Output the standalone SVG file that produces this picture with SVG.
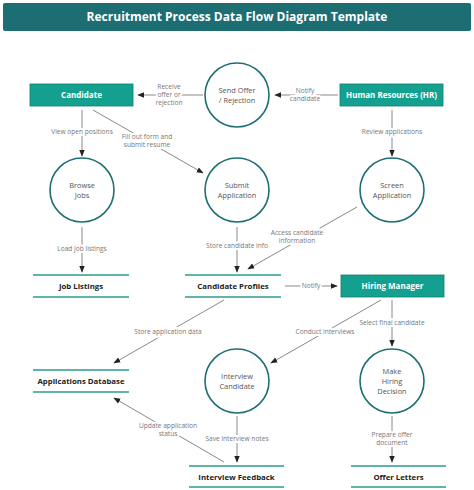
<svg xmlns="http://www.w3.org/2000/svg" width="474" height="490" viewBox="0 0 474 490">
<defs>
<marker id="ah" viewBox="0 0 10 10" refX="9" refY="5" markerWidth="7" markerHeight="7" orient="auto" markerUnits="userSpaceOnUse">
<path d="M0,1 L10,5 L0,9 Z" fill="#222"/>
</marker>
<style>
.title{font-family:"Open Sans","Liberation Sans",sans-serif;font-weight:700;font-size:12px;fill:#fff}
.ent rect{fill:#14a08f;stroke:#0f7d70;stroke-width:0.8}
.ent text{font-family:"Open Sans","Liberation Sans",sans-serif;font-weight:700;font-size:8px;fill:#fff}
.proc circle{fill:#fff;stroke:#1d6f73;stroke-width:1.6}
.proc text{font-family:"Open Sans","Liberation Sans",sans-serif;font-size:7.4px;fill:#555}
.store line{stroke:#2a9d90;stroke-width:1.6}
.store text{font-family:"Open Sans","Liberation Sans",sans-serif;font-weight:700;font-size:7.8px;fill:#222}
.conn line{stroke:#888;stroke-width:1;marker-end:url(#ah)}
.lbl{font-family:"Open Sans","Liberation Sans",sans-serif;font-size:6.6px;fill:#777;stroke:#fff;stroke-width:4;paint-order:stroke;stroke-linejoin:round}
</style>
</defs>
<rect width="474" height="490" fill="#fff"/>
<g id="title">
<rect x="3" y="3" width="468" height="28" rx="2" fill="#1d6e73"/>
<text class="title" x="237" y="21" text-anchor="middle">Recruitment Process Data Flow Diagram Template</text>
</g>
<g id="connectors" class="conn">
<line x1="203" y1="95" x2="138" y2="95"/>
<line x1="338" y1="95" x2="275" y2="95"/>
<line x1="82" y1="110" x2="82" y2="156"/>
<line x1="93" y1="110" x2="203" y2="173"/>
<line x1="392" y1="110" x2="392" y2="156"/>
<line x1="82" y1="227" x2="82" y2="272"/>
<line x1="237" y1="227" x2="237" y2="272"/>
<line x1="357" y1="207" x2="248" y2="269"/>
<line x1="285" y1="286" x2="337" y2="286"/>
<line x1="224" y1="300" x2="114" y2="363"/>
<line x1="381" y1="300" x2="271" y2="363"/>
<line x1="392" y1="300" x2="392" y2="346"/>
<line x1="237" y1="416" x2="237" y2="462"/>
<line x1="224" y1="462" x2="114" y2="398"/>
<line x1="392" y1="416" x2="392" y2="462"/>
<g text-anchor="middle">
<text class="lbl" x="169" y="89">Receive</text>
<text class="lbl" x="169" y="97">offer or</text>
<text class="lbl" x="169" y="105">rejection</text>
<text class="lbl" x="305" y="93">Notify</text>
<text class="lbl" x="305" y="101">candidate</text>
<text class="lbl" x="82" y="134">View open positions</text>
<text class="lbl" x="147" y="139">Fill out form and</text>
<text class="lbl" x="147" y="147">submit resume</text>
<text class="lbl" x="392" y="134">Review applications</text>
<text class="lbl" x="82" y="251">Load job listings</text>
<text class="lbl" x="237" y="248">Store candidate info</text>
<text class="lbl" x="297" y="235">Access candidate</text>
<text class="lbl" x="297" y="243">information</text>
<text class="lbl" x="311" y="288">Notify</text>
<text class="lbl" x="168" y="334">Store application data</text>
<text class="lbl" x="325" y="334">Conduct interviews</text>
<text class="lbl" x="392" y="325">Select final candidate</text>
<text class="lbl" x="237" y="441">Save interview notes</text>
<text class="lbl" x="168" y="428">Update application</text>
<text class="lbl" x="168" y="436">status</text>
<text class="lbl" x="392" y="437">Prepare offer</text>
<text class="lbl" x="392" y="445">document</text>
</g>
</g>
<g id="candidate" class="ent"><rect x="30" y="84" width="103" height="22"/><text x="81.5" y="98" text-anchor="middle">Candidate</text></g>
<g id="hr" class="ent"><rect x="340" y="84" width="103" height="22"/><text x="391.5" y="98" text-anchor="middle">Human Resources (HR)</text></g>
<g id="hiring-manager" class="ent"><rect x="341" y="275" width="103" height="22"/><text x="392.5" y="289" text-anchor="middle">Hiring Manager</text></g>
<g id="send-offer" class="proc"><circle cx="237" cy="95" r="32"/><text x="237" y="92.5" text-anchor="middle">Send Offer</text><text x="237" y="102.5" text-anchor="middle">/ Rejection</text></g>
<g id="browse-jobs" class="proc"><circle cx="82" cy="190" r="32"/><text x="82" y="187.5" text-anchor="middle">Browse</text><text x="82" y="197.5" text-anchor="middle">Jobs</text></g>
<g id="submit-application" class="proc"><circle cx="237" cy="190" r="32"/><text x="237" y="187.5" text-anchor="middle">Submit</text><text x="237" y="197.5" text-anchor="middle">Application</text></g>
<g id="screen-application" class="proc"><circle cx="392" cy="190" r="32"/><text x="392" y="187.5" text-anchor="middle">Screen</text><text x="392" y="197.5" text-anchor="middle">Application</text></g>
<g id="interview-candidate" class="proc"><circle cx="237" cy="381" r="32"/><text x="237" y="378.5" text-anchor="middle">Interview</text><text x="237" y="388.5" text-anchor="middle">Candidate</text></g>
<g id="make-hiring-decision" class="proc"><circle cx="392" cy="381" r="32"/><text x="392" y="373.5" text-anchor="middle">Make</text><text x="392" y="383.5" text-anchor="middle">Hiring</text><text x="392" y="393.5" text-anchor="middle">Decision</text></g>
<g id="job-listings" class="store"><line x1="33" y1="275" x2="129" y2="275"/><line x1="33" y1="297" x2="129" y2="297"/><text x="81" y="289" text-anchor="middle">Job Listings</text></g>
<g id="candidate-profiles" class="store"><line x1="185" y1="275" x2="281" y2="275"/><line x1="185" y1="297" x2="281" y2="297"/><text x="233" y="289" text-anchor="middle">Candidate Profiles</text></g>
<g id="applications-database" class="store"><line x1="33" y1="370" x2="129" y2="370"/><line x1="33" y1="392" x2="129" y2="392"/><text x="81" y="384" text-anchor="middle">Applications Database</text></g>
<g id="interview-feedback" class="store"><line x1="189" y1="466" x2="284" y2="466"/><line x1="189" y1="487" x2="284" y2="487"/><text x="236.5" y="479.5" text-anchor="middle">Interview Feedback</text></g>
<g id="offer-letters" class="store"><line x1="351" y1="466" x2="446" y2="466"/><line x1="351" y1="487" x2="446" y2="487"/><text x="398.5" y="479.5" text-anchor="middle">Offer Letters</text></g>
</svg>
